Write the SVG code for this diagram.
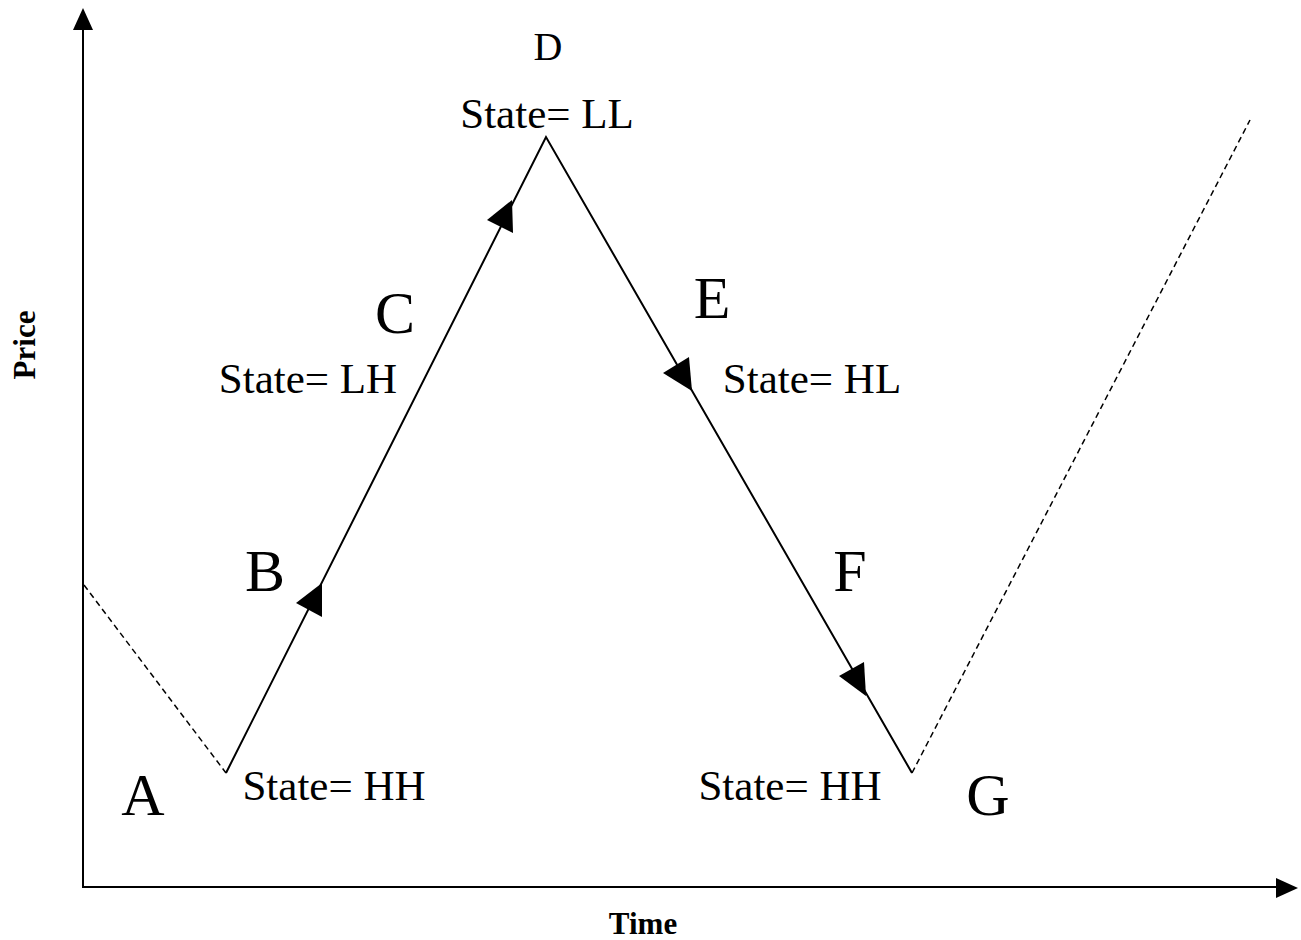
<svg xmlns="http://www.w3.org/2000/svg" width="1301" height="940" viewBox="0 0 1301 940">
<style>
.ln{stroke:#000;stroke-width:2;fill:none}
.ds{stroke:#000;stroke-width:1.5;fill:none;stroke-dasharray:6,4}
.ah{fill:#000}
.t{font-family:"Liberation Serif",serif;fill:#000}
.s{font-size:43px}
.d{font-size:40px}
.L{font-size:60px}
.b{font-family:"Liberation Serif",serif;font-weight:bold;font-size:31px;fill:#000}
</style>
<rect width="1301" height="940" fill="#fff"/>
<g id="axes">
<line class="ln" x1="83" y1="26" x2="83" y2="887"/>
<line class="ln" x1="82" y1="887" x2="1280" y2="887"/>
<polygon class="ah" points="83,8 73,30 93,30"/>
<polygon class="ah" points="1298,888 1276,878 1276,898"/>
</g>
<g id="connectors">
<line class="ds" x1="84" y1="585" x2="226" y2="773"/>
<polyline class="ln" points="226,773 546,137 912,773"/>
<line class="ds" x1="912" y1="773" x2="1250" y2="120"/>
<polygon class="ah" points="322,583 296,603 322,617"/>
<polygon class="ah" points="512,200 487,220 513,233"/>
<polygon class="ah" points="689,357 663,373 692,391"/>
<polygon class="ah" points="864,662 839,676 866,696"/>
</g>
<g id="labels">
<text class="t d" x="548" y="60" text-anchor="middle">D</text>
<text class="t s" x="547" y="128" text-anchor="middle">State= LL</text>
<text class="t L" x="395" y="333" text-anchor="middle">C</text>
<text class="t s" x="308" y="393" text-anchor="middle">State= LH</text>
<text class="t L" x="712" y="318" text-anchor="middle">E</text>
<text class="t s" x="812" y="393" text-anchor="middle">State= HL</text>
<text class="t L" x="265" y="591" text-anchor="middle">B</text>
<text class="t L" x="850" y="591" text-anchor="middle">F</text>
<text class="t L" x="143" y="815" text-anchor="middle">A</text>
<text class="t s" x="334" y="800" text-anchor="middle">State= HH</text>
<text class="t s" x="790" y="800" text-anchor="middle">State= HH</text>
<text class="t L" x="988" y="815" text-anchor="middle">G</text>
<text class="b" x="643" y="934" text-anchor="middle">Time</text>
<text class="b" transform="translate(35,345) rotate(-90)" text-anchor="middle">Price</text>
</g>
</svg>
